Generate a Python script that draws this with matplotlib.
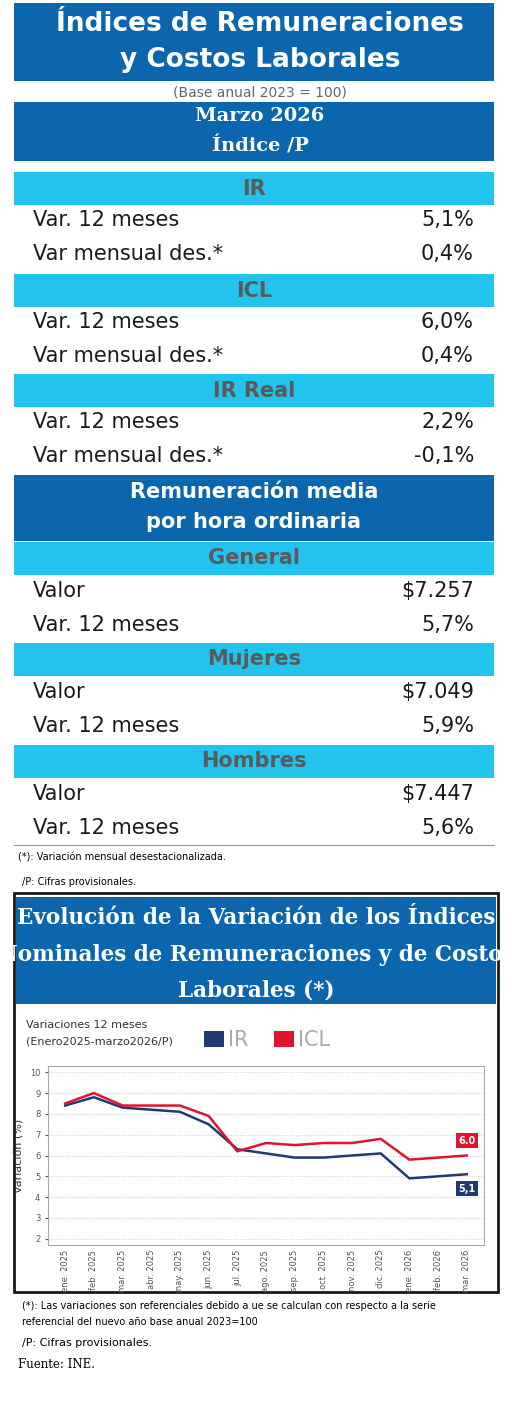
import matplotlib
matplotlib.use("Agg")
import matplotlib.pyplot as plt
import matplotlib.patches as mpatches

W, H = 520, 1406
DARK = "#0b66ad"
LIGHT = "#22c4ee"
GRAY = "#5a5a5a"

# ── data ─────────────────────────────────────────────────────────────────────
months = ["ene. 2025", "feb. 2025", "mar. 2025", "abr. 2025", "may. 2025", "jun. 2025",
          "jul. 2025", "ago. 2025", "sep. 2025", "oct. 2025", "nov. 2025", "dic. 2025",
          "ene. 2026", "feb. 2026", "mar. 2026"]
ir_vals  = [8.4, 8.8, 8.3, 8.2, 8.1, 7.5, 6.3, 6.1, 5.9, 5.9, 6.0, 6.1, 4.9, 5.0, 5.1]
icl_vals = [8.5, 9.0, 8.4, 8.4, 8.4, 7.9, 6.2, 6.6, 6.5, 6.6, 6.6, 6.8, 5.8, 5.9, 6.0]

sections = ["IR", "ICL", "IR Real"]
sec_labels = [["Var. 12 meses", "Var mensual des.*"]] * 3
sec_values = [["5,1%", "0,4%"], ["6,0%", "0,4%"], ["2,2%", "-0,1%"]]
groups = ["General", "Mujeres", "Hombres"]
grp_labels = [["Valor", "Var. 12 meses"]] * 3
grp_values = [["$7.257", "5,7%"], ["$7.049", "5,9%"], ["$7.447", "5,6%"]]

fig = plt.figure(figsize=(W / 100, H / 100), dpi=100)
ax = fig.add_axes([0, 0, 1, 1])
ax.set_xlim(0, W)
ax.set_ylim(H, 0)
ax.axis("off")


def band(y0, y1, color, x0=14, x1=494):
    ax.add_patch(mpatches.Rectangle((x0, y0), x1 - x0, y1 - y0, color=color, lw=0))


serif = "DejaVu Serif"
cond = "Liberation Sans Narrow"

# ── header ───────────────────────────────────────────────────────────────────
band(3, 81, DARK)
ax.text(260, 24, "Índices de Remuneraciones", ha="center", va="center", color="white",
        fontsize=19, family=cond, fontweight="bold")
ax.text(260, 60, "y Costos Laborales", ha="center", va="center", color="white",
        fontsize=19, family=cond, fontweight="bold")
ax.text(260, 92, "(Base anual 2023 = 100)", ha="center", va="center", color="#666666",
        fontsize=10)
band(102, 161, DARK)
ax.text(260, 116, "Marzo 2026", ha="center", va="center", color="white", fontsize=14,
        family=serif, fontweight="bold")
ax.text(260, 146, "Índice /P", ha="center", va="center", color="white", fontsize=14,
        family=serif, fontweight="bold")

row_font = dict(fontsize=15, color="#1a1a1a", va="center")
band_tops = [172, 274, 374]
for top, name, labs, vals in zip(band_tops, sections, sec_labels, sec_values):
    band(top, top + 33, LIGHT)
    ax.text(254, top + 17, name, ha="center", va="center", color=GRAY, fontsize=15,
            fontweight="bold")
    for k, (l, v) in enumerate(zip(labs, vals)):
        ax.text(33, top + 48 + k * 34, l, ha="left", **row_font)
        ax.text(474, top + 48 + k * 34, v, ha="right", **row_font)

band(475, 541, DARK)
ax.text(254, 492, "Remuneración media", ha="center", va="center", color="white",
        fontsize=15, fontweight="bold")
ax.text(254, 522, "por hora ordinaria", ha="center", va="center", color="white",
        fontsize=15, fontweight="bold")
grp_tops = [542, 643, 745]
for top, name, labs, vals in zip(grp_tops, groups, grp_labels, grp_values):
    band(top, top + 33, LIGHT)
    ax.text(254, top + 16, name, ha="center", va="center", color=GRAY, fontsize=15,
            fontweight="bold")
    for k, (l, v) in enumerate(zip(labs, vals)):
        ax.text(33, top + 49 + k * 34, l, ha="left", **row_font)
        ax.text(474, top + 49 + k * 34, v, ha="right", **row_font)

ax.plot([14, 494], [845, 845], color="#999999", lw=0.8)
ax.text(18, 858, "(*): Variación mensual desestacionalizada.", fontsize=7, family=cond, va="center")
ax.text(22, 882, "/P: Cifras provisionales.", fontsize=7, family=cond, va="center")

# ── chart block ──────────────────────────────────────────────────────────────
ax.add_patch(mpatches.Rectangle((14, 893), 484, 399, fill=False, ec="#1a1a1a", lw=2))
band(897, 1004, DARK, x0=16, x1=496)
for yy, t in zip([918, 955, 990], ["Evolución de la Variación de los Índices",
                                   "Nominales de Remuneraciones y de Costos",
                                   "Laborales (*)"]):
    ax.text(256, yy, t, ha="center", va="center", color="white", fontsize=15.5,
            family=serif, fontweight="bold")
ax.text(26, 1025, "Variaciones 12 meses", fontsize=8, va="center", color="#333333")
ax.text(26, 1042, "(Enero2025-marzo2026/P)", fontsize=8, va="center", color="#333333")
band(1031, 1047, "#1f3a73", x0=204, x1=224)
ax.text(228, 1040, "IR", fontsize=15, color="#aaaaaa", va="center", family=cond)
band(1031, 1047, "#e0142c", x0=274, x1=294)
ax.text(298, 1040, "ICL", fontsize=15, color="#aaaaaa", va="center", family=cond)

ca = fig.add_axes([48 / W, 1 - 1245 / H, (484 - 48) / W, (1245 - 1066) / H])
x = range(len(months))
ca.plot(x, ir_vals, color="#1f3a73", lw=1.8)
ca.plot(x, icl_vals, color="#e0142c", lw=1.8)
ca.set_ylim(1.7, 10.3)
ca.set_xlim(-0.6, len(months) - 0.4)
ca.set_yticks(range(2, 11))
ca.tick_params(axis="y", labelsize=6, colors="#555555", length=2)
ca.set_xticks(list(x))
ca.set_xticklabels(months, rotation=90, fontsize=6, color="#555555")
ca.tick_params(axis="x", length=0)
ca.grid(axis="y", ls=":", color="#cccccc", lw=0.8)
ca.set_ylabel("Variación (%)", fontsize=8, color="#333333")
for s in ca.spines.values():
    s.set_color("#aaaaaa")
ca.text(14, icl_vals[-1] + 0.7, f"{icl_vals[-1]:.1f}", ha="center", va="center", color="white",
        fontsize=7, fontweight="bold", bbox=dict(boxstyle="square,pad=0.25", fc="#e0142c", ec="none"))
ca.text(14, ir_vals[-1] - 0.7, f"{ir_vals[-1]:.1f}".replace(".", ","), ha="center", va="center",
        color="white", fontsize=7, fontweight="bold",
        bbox=dict(boxstyle="square,pad=0.25", fc="#1f3a73", ec="none"))

ax.text(22, 1306, "(*): Las variaciones son referenciales debido a ue se calculan con respecto a la serie",
        fontsize=7, family=cond, va="center")
ax.text(22, 1322, "referencial del nuevo año base anual 2023=100", fontsize=7, family=cond, va="center")
ax.text(22, 1343, "/P: Cifras provisionales.", fontsize=8, family=cond, va="center")
ax.text(18, 1364, "Fuente: INE.", fontsize=8.5, family=serif, va="center")

fig.savefig("out.png", dpi=100)
